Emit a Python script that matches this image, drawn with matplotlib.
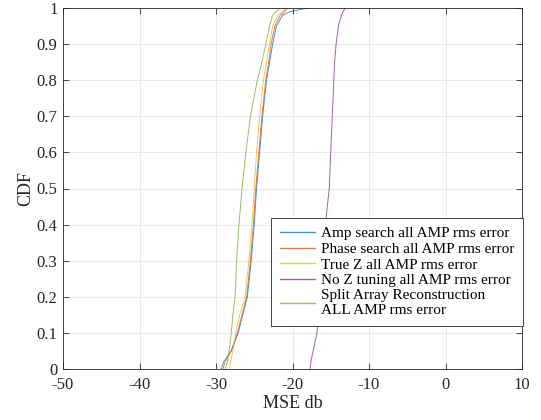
import matplotlib
matplotlib.use('Agg')
import matplotlib.pyplot as plt
import numpy as np

#----------------------------------------------------
# Data: MSE (dB) read at each CDF level
#----------------------------------------------------
cdf_levels = [0, 0.02, 0.05, 0.1, 0.15, 0.2, 0.3, 0.4, 0.5, 0.6, 0.7,
              0.8, 0.85, 0.9, 0.95, 0.98, 0.99, 1.0]

amp_search   = [-29.3, -29.0, -28.0, -27.1, -26.5, -25.9, -25.4, -25.0, -24.7,
                -24.3, -23.9, -23.4, -23.0, -22.6, -22.1, -21.3, -20.3, -18.0]
phase_search = [-29.1, -28.8, -28.0, -27.2, -26.6, -26.0, -25.5, -25.1, -24.8,
                -24.4, -24.0, -23.5, -23.1, -22.8, -22.3, -21.6, -21.0, -20.7]
true_z       = [-28.2, -28.1, -27.8, -27.4, -26.9, -26.2, -25.7, -25.3, -25.0,
                -24.7, -24.3, -23.8, -23.4, -23.0, -22.6, -21.9, -21.3, -20.9]
no_z_tuning  = [-17.7, -17.6, -17.3, -16.8, -16.6, -16.4, -16.1, -15.7, -15.2,
                -15.0, -14.8, -14.6, -14.5, -14.3, -14.0, -13.6, -13.4, -13.1]
split_array  = [-28.8, -28.5, -28.3, -28.0, -27.8, -27.5, -27.3, -27.0, -26.6,
                -26.1, -25.5, -24.6, -24.0, -23.5, -23.0, -22.6, -22.1, -21.6]

labels = ['Amp search all AMP rms error',
          'Phase search all AMP rms error',
          'True Z all AMP rms error',
          'No Z tuning all AMP rms error',
          'Split Array Reconstruction\nALL AMP rms error']

x_ticks = [-50, -40, -30, -20, -10, 0, 10]
y_ticks = [0, 0.1, 0.2, 0.3, 0.4, 0.5, 0.6, 0.7, 0.8, 0.9, 1]
y_tick_labels = ['0', '0.1', '0.2', '0.3', '0.4', '0.5', '0.6', '0.7', '0.8', '0.9', '1']

# MATLAB default colour order
colors = ['#0072BD', '#D95319', '#EDB120', '#7E2F8E', '#77AC30']

#----------------------------------------------------
# Plot
#----------------------------------------------------
plt.rcParams['font.family'] = ['Liberation Serif', 'DejaVu Serif']
plt.rcParams['axes.unicode_minus'] = False
fig = plt.figure(figsize=(5.41, 4.20), dpi=100)
ax = fig.add_axes([63/541, 51/420, 459/541, 361/420])

series = [amp_search, phase_search, true_z, no_z_tuning, split_array]
for s, c, lab in zip(series, colors, labels):
    ax.plot(s, cdf_levels, color=c, linewidth=0.7, alpha=0.75, label=lab)

ax.set_xlim(-50, 10)
ax.set_ylim(0, 1)
ax.set_xticks(x_ticks)
ax.set_yticks(y_ticks)
ax.set_yticklabels(y_tick_labels)
ax.tick_params(direction='in', top=True, right=True, length=4, width=0.6,
               labelsize=12, colors='#262626', pad=4)
ax.tick_params(axis='x', pad=6)
ax.grid(True, color='#e6e6e6', linewidth=0.6)
ax.set_axisbelow(True)
for sp in ax.spines.values():
    sp.set_color('#262626')
    sp.set_linewidth(0.6)

ax.set_xlabel('MSE db', fontsize=13, color='#262626', labelpad=1)
ax.set_ylabel('CDF', fontsize=13, color='#262626', labelpad=2)

leg = ax.legend(loc='lower right', bbox_to_anchor=(1.003, 0.119), fontsize=11,
                frameon=True, fancybox=False, framealpha=1, edgecolor='#262626',
                handlelength=2.3, handletextpad=0.35, labelspacing=0.12,
                borderpad=0.6, borderaxespad=0)
leg.get_frame().set_linewidth(0.6)
for line in leg.get_lines():
    line.set_linewidth(1.0)

fig.savefig('out.png', dpi=100)
